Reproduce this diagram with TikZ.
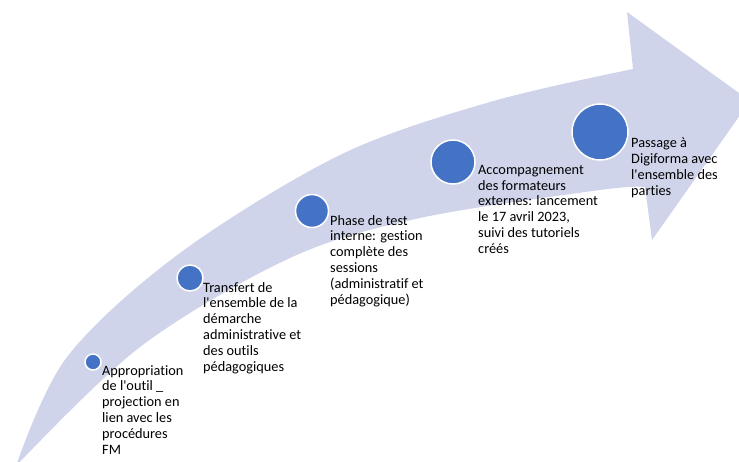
\documentclass[tikz,border=0pt]{standalone}
\usepackage{fontspec}
\setmainfont{Carlito}[Ligatures={NoCommon}]
\definecolor{arrowgray}{RGB}{207,212,234}
\definecolor{dotblue}{RGB}{68,114,196}
\newcommand{\apos}{\textquotesingle}
\begin{document}
\begin{tikzpicture}[x=1pt,y=-1pt,
  dot/.style={circle, fill=dotblue, draw=white, line width=1.5pt, inner sep=0pt, minimum size=#1},
  lbl/.style={anchor=north west, inner sep=0pt, align=left, font=\fontsize{14.3}{15.8}\selectfont, text=black}]
\useasboundingbox (0,0) rectangle (739,461);
\begin{scope}
\clip (0,0) rectangle (739,461);
\fill[arrowgray] plot[smooth, tension=0.55] coordinates {(16,466) (67,357) (180,253) (340,155) (490,102) (633,69)}
  -- (627,12) -- (750,101) -- (652,240) -- (645,187)
  -- plot[smooth, tension=0.55] coordinates {(645,187) (600,190) (420,218) (290,258) (140,347) (16,466)} -- cycle;
\end{scope}
\node[dot=16] (d1) at (93,362) {};
\node[dot=26] (d2) at (190,278) {};
\node[dot=33] (d3) at (312,211) {};
\node[dot=44] (d4) at (453,162) {};
\node[dot=56] (d5) at (600,132) {};
\node[lbl] (t1) at (102,365) {Appropriation\\de l\apos outil \_\\projection en\\lien avec les\\procédures\\FM};
\node[lbl] (t2) at (203,282) {Transfert de\\l\apos ensemble de la\\démarche\\administrative et\\des outils\\pédagogiques};
\node[lbl] (t3) at (330,215) {Phase de test\\interne: gestion\\complète des\\sessions\\(administratif et\\pédagogique)};
\node[lbl] (t4) at (478,165) {Accompagnement\\des formateurs\\externes: lancement\\le 17 avril 2023,\\suivi des tutoriels\\créés};
\node[lbl] (t5) at (631,138) {Passage à\\Digiforma avec\\l\apos ensemble des\\parties};
\end{tikzpicture}
\end{document}
